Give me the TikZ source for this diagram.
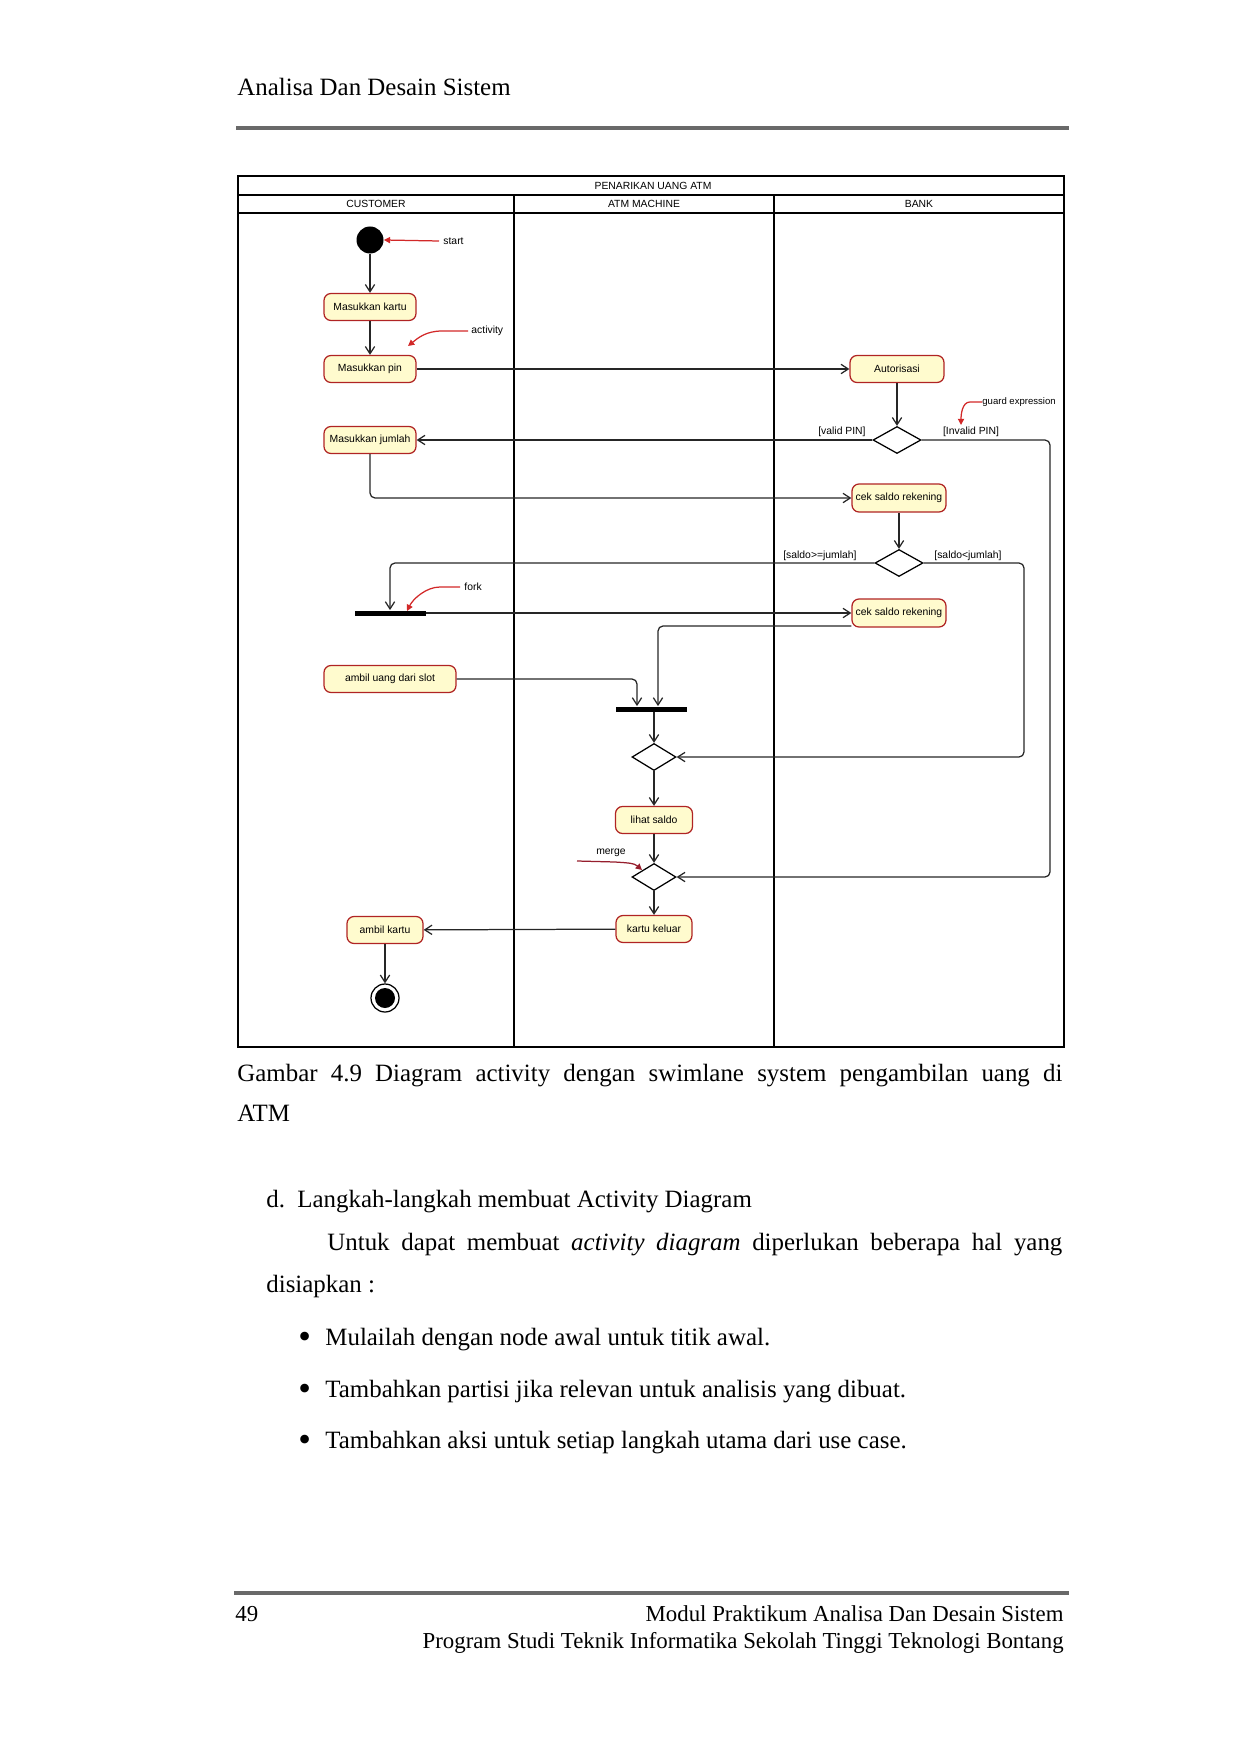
\documentclass[tikz,border=0pt]{standalone}
\usepackage{fontspec}
\setmainfont{Liberation Serif}
\newfontfamily\diagfont{Liberation Sans}
\usetikzlibrary{shapes.geometric,arrows.meta,calc}
\definecolor{actfill}{RGB}{255,251,206}
\definecolor{actline}{RGB}{176,36,36}
\definecolor{noteline}{RGB}{210,40,40}
\definecolor{mergeline}{RGB}{150,30,45}
\definecolor{rulegray}{RGB}{105,105,105}
\newdimen\pxu \pxu=0.4818pt

\begin{document}
\begin{tikzpicture}[x=0.4818pt,y=-0.4818pt,
  txt/.style={inner sep=0,font=\fontsize{12}{14}\selectfont},
  foot/.style={inner sep=0,font=\fontsize{11}{13}\selectfont},
  lbl/.style={inner sep=0,font=\diagfont\fontsize{5}{6}\selectfont},
  act/.style={draw=actline,fill=actfill,rounded corners=7\pxu,minimum height=27\pxu,inner sep=0,line width=0.6pt,font=\diagfont\fontsize{5}{6}\selectfont},
  choice/.style={diamond,draw,minimum width=48\pxu,minimum height=27\pxu,inner sep=0,line width=0.6pt},
  syncbar/.style={fill=black,minimum width=71\pxu,minimum height=5\pxu,inner sep=0},
  startdot/.style={circle,fill=black,minimum size=27\pxu,inner sep=0},
  enddot/.style={circle,draw,minimum size=28\pxu,inner sep=0,line width=0.6pt},
  flow/.style={draw=black!85,line width=0.6pt,-{Straight Barb[length=3.5pt,width=4.5pt]}},
  note/.style={draw=noteline,line width=0.6pt,-{Triangle[length=3pt,width=3pt]}}]
\useasboundingbox (0,0) rectangle (1241,1754);

\node[txt,anchor=base west] (head) at (237,96) {Analisa Dan Desain Sistem};
\draw[rulegray,line width=1.5pt] (236,128) -- (1069,128);

\draw[line width=0.7pt] (238,176) rectangle (1064,1047);
\draw[line width=1.3pt] (238,176) -- (1064,176);
\draw[line width=0.7pt] (238,195) -- (1064,195);
\draw[line width=0.7pt] (238,213) -- (1064,213);
\draw[line width=0.6pt] (514,195) -- (514,1047);
\draw[line width=0.6pt] (774,195) -- (774,1047);
\node[lbl] (title) at (653,186) {PENARIKAN UANG ATM};
\node[lbl] (lanecust) at (376,204) {CUSTOMER};
\node[lbl] (laneatm) at (644,204) {ATM MACHINE};
\node[lbl] (lanebank) at (919,204) {BANK};

\node[startdot] (start) at (370,240) {};
\node[act,minimum width=92\pxu] (kartu) at (370,307) {Masukkan kartu};
\node[act,minimum width=92\pxu] (pin) at (370,369) {Masukkan pin};
\node[act,minimum width=94\pxu] (autor) at (897,369) {Autorisasi};
\node[choice] (cekpin) at (897,440) {};
\node[act,minimum width=92\pxu] (jumlah) at (370,440) {Masukkan jumlah};
\node[act,minimum width=94\pxu,minimum height=28\pxu] (saldoa) at (899,498) {cek saldo rekening};
\node[choice] (ceksaldo) at (899,563) {};
\node[syncbar] (fork) at (390,613) {};
\node[act,minimum width=94\pxu,minimum height=28\pxu] (saldob) at (899,613) {cek saldo rekening};
\node[act,minimum width=132\pxu] (uang) at (390,679) {ambil uang dari slot};
\node[syncbar] (join) at (651,709) {};
\node[choice,minimum width=44\pxu] (gabung) at (654,757) {};
\node[act,minimum width=77\pxu] (lihat) at (654,820) {lihat saldo};
\node[choice,minimum width=44\pxu] (merge) at (654,877) {};
\node[act,minimum width=76\pxu] (keluar) at (654,929) {kartu keluar};
\node[act,minimum width=76\pxu] (ambil) at (385,930) {ambil kartu};
\node[enddot] (fin) at (385,998) {};
\fill (fin.center) circle (10);

\coordinate (railb) at (1050,440);
\coordinate (raila) at (1024,563);
\draw[flow] (start) -- (kartu);
\draw[flow] (kartu) -- (pin);
\draw[flow] (pin) -- (autor);
\draw[flow] (autor) -- (cekpin);
\draw[flow] (cekpin.west) -- (jumlah.east);
\draw[flow,rounded corners=5\pxu] (cekpin.east) -- (railb) |- (merge.east);
\draw[flow,rounded corners=5\pxu] (jumlah.south) |- (saldoa.west);
\draw[flow] (saldoa) -- (ceksaldo);
\draw[flow,rounded corners=5\pxu] (ceksaldo.west) -| (fork.north);
\draw[flow,rounded corners=5\pxu] (ceksaldo.east) -- (raila) |- (gabung.east);
\draw[flow] (fork.east) -- (saldob.west);
\draw[flow,rounded corners=5\pxu] ($(saldob.west)+(0,13)$) -| ($(join.north)+(7,0)$);
\draw[flow,rounded corners=5\pxu] (uang.east) -| ($(join.north)+(-14,0)$);
\draw[flow] (gabung |- join.south) -- (gabung);
\draw[flow] (gabung) -- (lihat);
\draw[flow] (lihat) -- (merge);
\draw[flow] (merge) -- (keluar);
\draw[flow] (keluar) -- (ambil);
\draw[flow] (ambil) -- (fin);

\node[lbl,anchor=east] (gvalid) at (866,432) {[valid PIN]};
\node[lbl] (ginvalid) at (971,432) {[Invalid PIN]};
\node[lbl,anchor=east] (gcukup) at (857,556) {[saldo>=jumlah]};
\node[lbl] (gkurang) at (968,556) {[saldo<jumlah]};

\node[lbl,anchor=west] (nstart) at (443,241) {start};
\node[lbl,anchor=west] (nact) at (471,331) {activity};
\node[lbl,anchor=west,font=\diagfont\fontsize{4.6}{5.5}\selectfont] (nguard) at (982,402) {guard expression};
\node[lbl,anchor=west] (nfork) at (464,587) {fork};
\node[lbl] (nmerge) at (611,853) {merge};
\coordinate (actptr) at (408,346);
\coordinate (guardptr) at (961,425);
\coordinate (forkptr) at (407,611);
\coordinate (mergetail) at (577,861);
\coordinate (mergeptr) at (642,870);
\draw[note] ([xshift=-4\pxu]nstart.west) -- (start.east);
\draw[note] ([xshift=-3\pxu]nact.west) -- ++(-26,0) .. controls +(-16,0) and +(10,-8) .. (actptr);
\draw[note] (nguard.west) -- ++(-12,0) .. controls +(-8,0) and +(0,-10) .. (guardptr);
\draw[note] ([xshift=-4\pxu]nfork.west) -- ++(-20,0) .. controls +(-14,0) and +(6,-12) .. (forkptr);
\draw[note,draw=mergeline] (mergetail) -- ++(38,1) .. controls +(14,1) and +(-8,-7) .. (mergeptr);

\node[txt,anchor=base west] (cap1) at (237,1081) {\makebox[825\pxu][s]{Gambar 4.9 Diagram activity dengan swimlane system pengambilan uang di}};
\node[txt,anchor=base west] (cap2) at (237,1121) {ATM};

\node[txt,anchor=base west] (subd) at (266,1207) {d.};
\node[txt,anchor=base west] (subtitle) at (297,1207) {Langkah-langkah membuat Activity Diagram};
\node[txt,anchor=base west] (para1) at (327,1250) {\makebox[735\pxu][s]{Untuk dapat membuat \textit{activity diagram} diperlukan beberapa hal yang}};
\node[txt,anchor=base west] (para2) at (266,1292) {disiapkan :};

\foreach \y/\t [count=\i] in {1345/Mulailah dengan node awal untuk titik awal.,
  1397/Tambahkan partisi jika relevan untuk analisis yang dibuat.,
  1448/Tambahkan aksi untuk setiap langkah utama dari use case.}{
  \node[txt,anchor=base west] (dot\i) at (298,\y) {\raisebox{-1.8pt}{\scalebox{1.45}{\textbullet}}};
  \node[txt,anchor=base west] (item\i) at (325,\y) {\t};
}

\draw[rulegray,line width=1.5pt] (234,1593) -- (1069,1593);
\node[foot,anchor=base west] (page) at (235,1621) {49};
\node[foot,anchor=base east] (foot1) at (1064,1621) {Modul Praktikum Analisa Dan Desain Sistem};
\node[foot,anchor=base east] (foot2) at (1064,1648) {Program Studi Teknik Informatika Sekolah Tinggi Teknologi Bontang};
\end{tikzpicture}
\end{document}
